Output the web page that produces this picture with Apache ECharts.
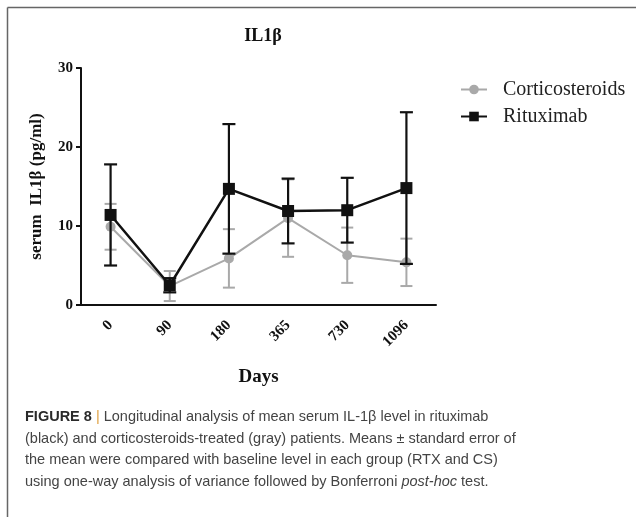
<!DOCTYPE html>
<html>
<head>
<meta charset="utf-8">
<script src="https://cdn.jsdelivr.net/npm/echarts@6/dist/echarts.min.js"></script>
<style>html,body{margin:0;padding:0;background:#fff;}#c{width:638px;height:517px;}</style>
</head>
<body>
<div id="c"></div>
<script>
var days = ['0', '90', '180', '365', '730', '1096'];
var csMean = [9.9, 2.4, 5.9, 11.0, 6.3, 5.4];
var csSem = [2.9, 1.9, 3.7, 4.9, 3.5, 3.0];
var rtxMean = [11.4, 2.5, 14.7, 11.9, 12.0, 14.8];
var rtxSem = [6.4, 0.9, 8.2, 4.1, 4.1, 9.6];
var yTicks = [0, 10, 20, 30];

var serif = '"Liberation Serif", "Times New Roman", serif';
var sans = '"Liberation Sans", Arial, sans-serif';
var grayC = '#a9a9a9';
var blackC = '#111111';

function errData(mean, sem) {
  return mean.map(function (m, i) { return [i, m - sem[i], m + sem[i]]; });
}
function errRender(color, capW, lw) {
  return function (params, api) {
    var x = api.value(0);
    var lo = api.coord([x, api.value(1)]);
    var hi = api.coord([x, api.value(2)]);
    var st = { stroke: color, lineWidth: lw };
    return {
      type: 'group',
      children: [
        { type: 'line', shape: { x1: lo[0], y1: lo[1], x2: hi[0], y2: hi[1] }, style: st },
        { type: 'line', shape: { x1: hi[0] - capW / 2, y1: hi[1], x2: hi[0] + capW / 2, y2: hi[1] }, style: st },
        { type: 'line', shape: { x1: lo[0] - capW / 2, y1: lo[1], x2: lo[0] + capW / 2, y2: lo[1] }, style: st }
      ]
    };
  };
}

var chart = echarts.init(document.getElementById('c'), null, { renderer: 'canvas' });
chart.setOption({
  animation: false,
  backgroundColor: '#fff',
  title: {
    text: 'IL1β',
    left: 258, top: 22, textAlign: 'center',
    textStyle: { fontFamily: serif, fontWeight: 'bold', fontSize: 18, color: '#111' }
  },
  legend: {
    left: 455, top: 74, orient: 'vertical', itemWidth: 26, itemHeight: 12, itemGap: 6,
    data: ['Corticosteroids', 'Rituximab'],
    textStyle: { fontFamily: serif, fontSize: 20, color: '#222', lineHeight: 21, padding: [0, 0, 0, 11] }
  },
  grid: { left: 81, top: 68, width: 355, height: 237 },
  xAxis: {
    type: 'category', data: days, boundaryGap: true,
    name: 'Days', nameLocation: 'middle', nameGap: 63,
    nameTextStyle: { fontFamily: serif, fontWeight: 'bold', fontSize: 19, color: '#111' },
    axisLine: { lineStyle: { color: '#111', width: 2 } },
    axisTick: { alignWithLabel: true, length: 5, lineStyle: { color: '#111', width: 2 } },
    axisLabel: { rotate: 45, margin: 18, fontFamily: serif, fontWeight: 'bold', fontSize: 15, color: '#111' },
    splitLine: { show: false }
  },
  yAxis: {
    type: 'value', min: yTicks[0], max: yTicks[yTicks.length - 1], interval: 10,
    name: 'serum  IL1β (pg/ml)', nameLocation: 'middle', nameGap: 36,
    nameTextStyle: { fontFamily: serif, fontWeight: 'bold', fontSize: 17, color: '#111' },
    axisLine: { show: true, lineStyle: { color: '#111', width: 2 } },
    axisTick: { show: true, length: 5, lineStyle: { color: '#111', width: 2 } },
    axisLabel: { margin: 8, fontFamily: serif, fontWeight: 'bold', fontSize: 15, color: '#111' },
    splitLine: { show: false }
  },
  graphic: [
    { type: 'line', shape: { x1: 7.5, y1: 7.5, x2: 636, y2: 7.5 }, style: { stroke: '#666', lineWidth: 1.5 } },
    { type: 'line', shape: { x1: 7.5, y1: 7.5, x2: 7.5, y2: 517 }, style: { stroke: '#666', lineWidth: 1.5 } },
    {
      type: 'text', left: 25, top: 406,
      style: {
        text: '{b|FIGURE 8} {p||} Longitudinal analysis of mean serum IL-1β level in rituximab\n' +
              '(black) and corticosteroids-treated (gray) patients. Means ± standard error of\n' +
              'the mean were compared with baseline level in each group (RTX and CS)\n' +
              'using one-way analysis of variance followed by Bonferroni {i|post-hoc} test.',
        font: '14.5px ' + sans,
        fill: '#444',
        lineHeight: 21.7,
        rich: {
          b: { fontWeight: 'bold', fill: '#2a2a2a', fontSize: 14.5, fontFamily: sans, lineHeight: 21.7 },
          p: { fill: '#e0a040', fontSize: 14.5, fontFamily: sans, lineHeight: 21.7 },
          i: { fontStyle: 'italic', fill: '#444', fontSize: 14.5, fontFamily: sans, lineHeight: 21.7 }
        }
      }
    }
  ],
  series: [
    {
      name: 'CS err', type: 'custom', z: 2, silent: true,
      data: errData(csMean, csSem),
      renderItem: errRender(grayC, 12, 2)
    },
    {
      name: 'Corticosteroids', type: 'line', z: 3, data: csMean,
      symbol: 'circle', symbolSize: 10,
      lineStyle: { color: grayC, width: 2 },
      itemStyle: { color: grayC }
    },
    {
      name: 'RTX err', type: 'custom', z: 4, silent: true,
      data: errData(rtxMean, rtxSem),
      renderItem: errRender(blackC, 13, 2.2)
    },
    {
      name: 'Rituximab', type: 'line', z: 5, data: rtxMean,
      symbol: 'rect', symbolSize: 12,
      lineStyle: { color: blackC, width: 2.5 },
      itemStyle: { color: blackC }
    }
  ]
});
</script>
</body>
</html>
